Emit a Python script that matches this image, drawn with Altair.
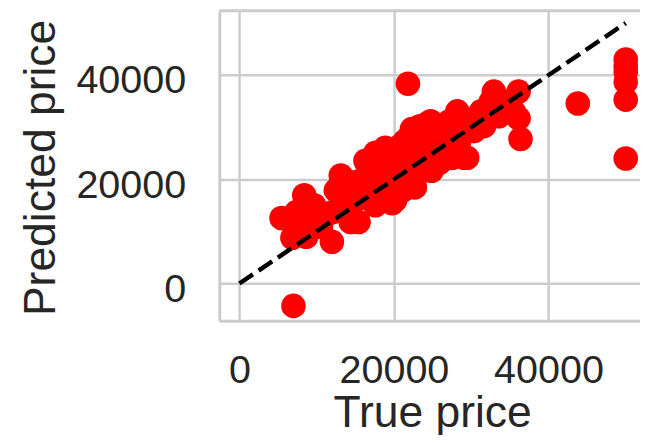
import altair as alt
import pandas as pd

true_price = [
    5457, 6991, 8397, 8652, 9930, 11974, 11207, 13125, 13125, 14019,
    14403, 15425, 15042, 15681, 16320, 16576, 17343, 17598, 18237, 18621,
    18876, 19515, 19771, 20154, 20154, 20410, 20793, 21176, 21432, 21815,
    22071, 22071, 22326, 22710, 22965, 23348, 23732, 23987, 24370, 24754,
    24882, 25265, 25521, 25904, 26543, 27182, 27566, 27821, 28205, 28460,
    29099, 29483, 29738, 30377, 31272, 31655, 32550, 32933, 33572, 34850,
    35489, 36128, 36128, 36384, 43796, 50000, 50000, 50000, 50000, 50000,
    50000, 7000,
    6863, 10569, 12103, 7374, 9674, 13764, 14786, 16960, 18876, 20793,
    19515, 21432, 23348, 22710, 24626, 26543, 27182, 29099, 17598, 13764,
    12486,
]
predicted_price = [
    12571, 11243, 16932, 8968, 11812, 8020, 13140, 20723, 15035, 17879,
    11812, 11812, 15983, 19775, 23567, 16932, 21278, 15035, 18827, 23567,
    26032, 20723, 15415, 15983, 23567, 19396, 26411, 17879, 22619, 38355,
    28307, 20154, 29635, 18448, 25463, 30204, 21658, 27359, 30773, 31152,
    21658, 25463, 29255, 23188, 27359, 24136, 24136, 29255, 33046, 27359,
    24136, 24136, 31152, 29255, 33046, 30204, 34942, 36838, 32098, 34942,
    33046, 36838, 31720, 27738, 34563, 43000, 41700, 40600, 38700, 35300,
    24000, -4300,
    8778, 10864, 13708, 13708, 15035, 14087, 17879, 18827, 16932, 22619,
    25463, 27359, 26411, 23567, 28307, 30204, 31152, 30204, 25083, 19775,
    17879,
]

# Identity reference line endpoints
line_x = [0, 50000]
line_y = [0, 50000]

x_ticks = [0, 20000, 40000]
y_ticks = [0, 20000, 40000]

points_df = pd.DataFrame({"true": true_price, "pred": predicted_price})
line_df = pd.DataFrame({"true": line_x, "pred": line_y})

FONT = "Liberation Sans"
TXT = "#262626"
GRID = "#cccccc"
W, H = 426, 314

x_scale = alt.Scale(domain=[-2594, 51847], nice=False, zero=False)
y_scale = alt.Scale(domain=[-7147, 52379], nice=False, zero=False)

x_axis = alt.Axis(
    values=x_ticks, format="d", title="True price",
    labelFont=FONT, labelFontSize=40, labelColor=TXT,
    labelBaseline="alphabetic", labelPadding=63, labelFlush=False,
    labelOverlap=False, ticks=False, tickSize=0,
    domain=True, domainColor=GRID, domainWidth=3,
    grid=True, gridColor=GRID, gridWidth=2.5,
    titleFont=FONT, titleFontSize=45, titleFontWeight="normal", titleColor=TXT,
    titleBaseline="alphabetic", titleAlign="center", titleX=215.5, titleY=107,
)
y_axis = alt.Axis(
    values=y_ticks, format="d", title="Predicted price",
    labelFont=FONT, labelFontSize=40, labelColor=TXT,
    labelAlign="right", labelBaseline="alphabetic", labelOffset=18,
    labelPadding=34, labelFlush=False, labelOverlap=False,
    ticks=False, tickSize=0,
    domain=True, domainColor=GRID, domainWidth=3,
    grid=True, gridColor=GRID, gridWidth=2.5,
    titleFont=FONT, titleFontSize=45, titleFontWeight="normal", titleColor=TXT,
    titleAngle=270, titleBaseline="alphabetic", titleAlign="center",
    titleX=-167, titleY=158.7,
)

points = alt.Chart(points_df).mark_circle(
    size=620, color="#ff0000", opacity=1
).encode(
    x=alt.X("true:Q", scale=x_scale, axis=x_axis),
    y=alt.Y("pred:Q", scale=y_scale, axis=y_axis),
)

ref_line = alt.Chart(line_df).mark_line(
    color="black", strokeWidth=4.5, strokeDash=[16.5, 7], strokeCap="butt"
).encode(
    x=alt.X("true:Q", scale=x_scale),
    y=alt.Y("pred:Q", scale=y_scale),
)

top_spine = alt.Chart(alt.Data(values=[{}])).mark_rule(
    color=GRID, strokeWidth=3
).encode(x=alt.value(0), x2=alt.value(W), y=alt.value(0))

chart = alt.layer(points, ref_line, top_spine).properties(
    width=W, height=H,
    autosize=alt.AutoSizeParams(type="none"),
    padding={"left": 214, "top": 0, "right": 0, "bottom": 113},
).configure_view(stroke=None)

chart.save("out.html", embed_options={"renderer": "svg", "actions": False})
